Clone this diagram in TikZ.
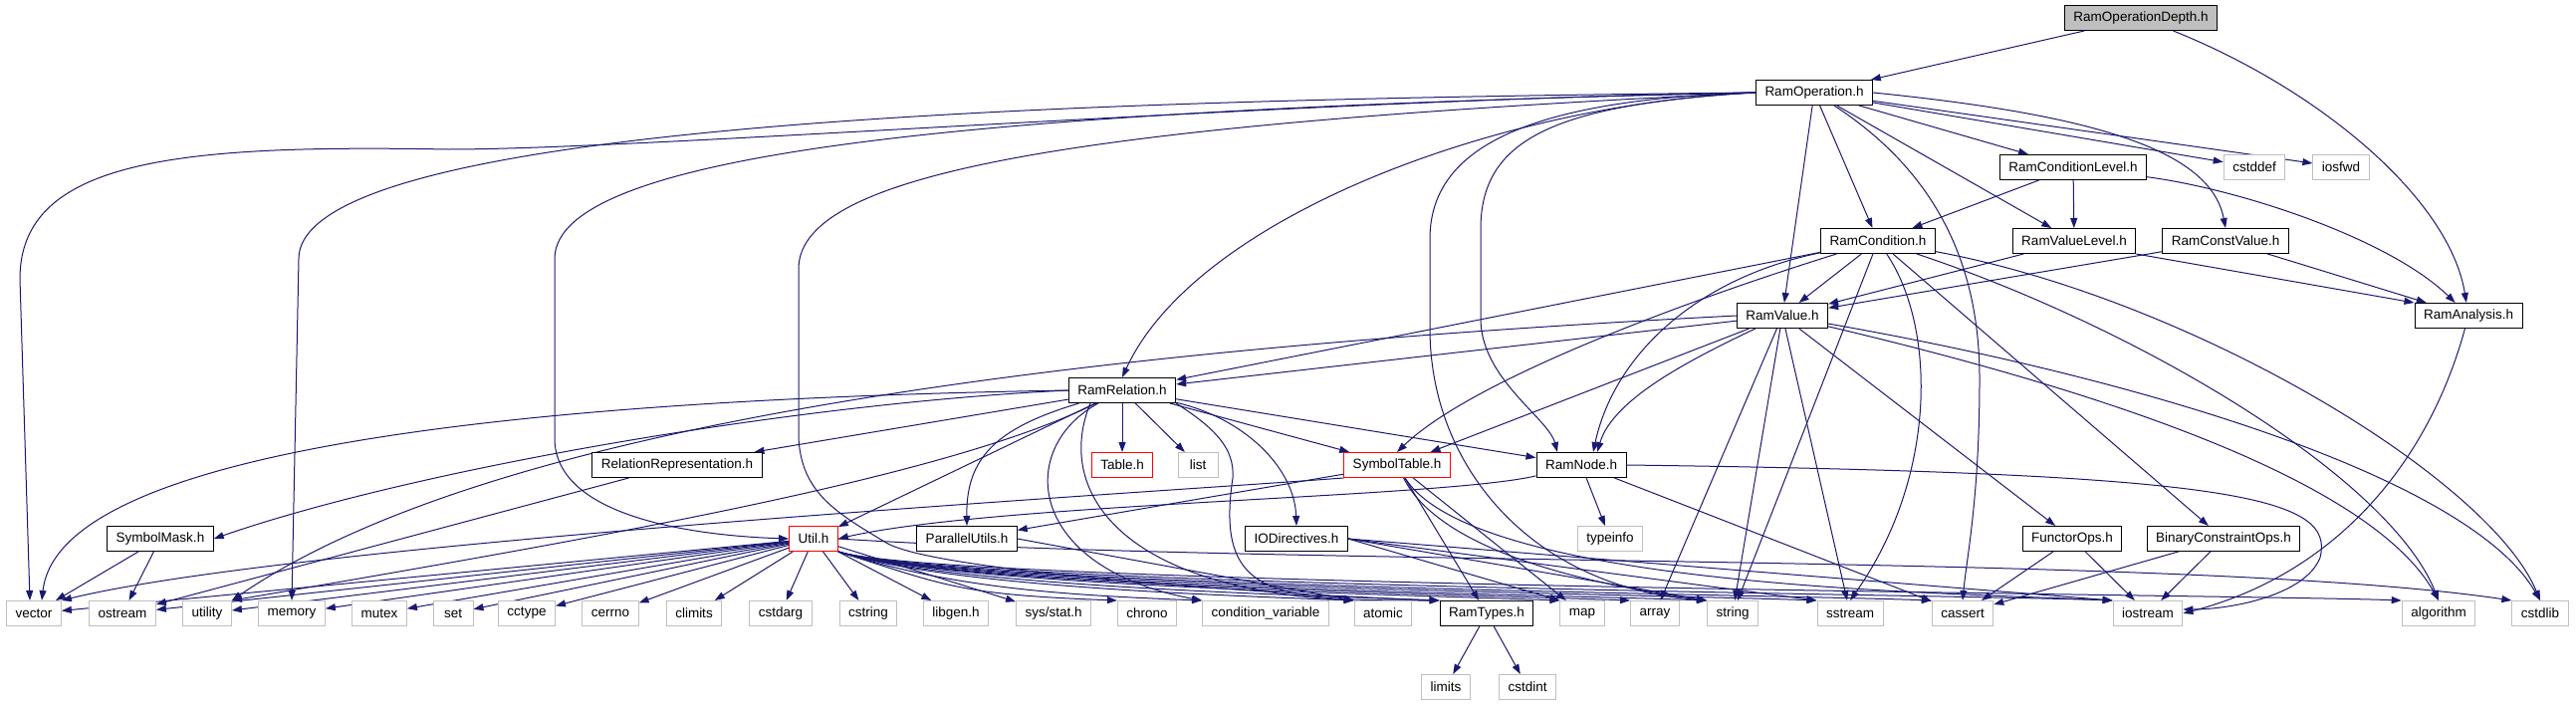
\documentclass[tikz,border=0pt]{standalone}
\usepackage{fontspec}
\setmainfont{Liberation Sans}
\usetikzlibrary{arrows.meta,backgrounds}
\definecolor{edgeblue}{RGB}{25,25,112}
\definecolor{sysgray}{RGB}{191,191,191}

\begin{document}
\begin{tikzpicture}[
  x=1pt, y=-1pt,
  font=\fontsize{13.5}{16}\selectfont,
  hdr/.style={rectangle, draw=black, line width=1pt, fill=white, minimum height=25pt,
              minimum width=40pt, inner xsep=9pt, inner ysep=0pt},
  sys/.style={hdr, draw=sysgray},
  trunc/.style={hdr, draw=red},
  root/.style={hdr, fill=sysgray},
  dep/.style={-{Triangle[length=10pt,width=7pt]}, line width=1pt, draw=edgeblue},
]
\useasboundingbox (0,0) rectangle (2587,709);

% --- project headers ---
\node[root] (RamOperationDepth) at (2150,18) {RamOperationDepth.h};
\node[hdr] (RamOperation) at (1822,93) {RamOperation.h};
\node[hdr] (RamConditionLevel) at (2082,168) {RamConditionLevel.h};
\node[sys] (cstddef) at (2264,168) {cstddef};
\node[sys] (iosfwd) at (2351,168) {iosfwd};
\node[hdr] (RamCondition) at (1886,242) {RamCondition.h};
\node[hdr] (RamValueLevel) at (2083,242) {RamValueLevel.h};
\node[hdr] (RamConstValue) at (2235,242) {RamConstValue.h};
\node[hdr] (RamValue) at (1790,317) {RamValue.h};
\node[hdr] (RamAnalysis) at (2479,317) {RamAnalysis.h};
\node[hdr] (RamRelation) at (1127,392) {RamRelation.h};
\node[hdr] (RelationRepresentation) at (680,467) {RelationRepresentation.h};
\node[trunc] (Table) at (1127,467) {Table.h};
\node[sys] (list) at (1203,467) {list};
\node[trunc] (SymbolTable) at (1403,467) {SymbolTable.h};
\node[hdr] (RamNode) at (1588,467) {RamNode.h};
\node[hdr] (SymbolMask) at (161,541) {SymbolMask.h};
\node[trunc] (Util) at (817,541) {Util.h};
\node[hdr] (ParallelUtils) at (971,541) {ParallelUtils.h};
\node[hdr] (IODirectives) at (1302,541) {IODirectives.h};
\node[sys] (typeinfo) at (1617,541) {typeinfo};
\node[hdr] (FunctorOps) at (2081,541) {FunctorOps.h};
\node[hdr] (BinaryConstraintOps) at (2233,541) {BinaryConstraintOps.h};

% --- bottom row ---
\node[sys] (vector) at (34,616) {vector};
\node[sys] (ostream) at (123,616) {ostream};
\node[sys] (utility) at (208,616) {utility};
\node[sys] (memory) at (293,616) {memory};
\node[sys] (mutex) at (381,616) {mutex};
\node[sys] (set) at (455,616) {set};
\node[sys] (cctype) at (529,616) {cctype};
\node[sys] (cerrno) at (613,616) {cerrno};
\node[sys] (climits) at (697,616) {climits};
\node[sys] (cstdarg) at (784,616) {cstdarg};
\node[sys] (cstring) at (872,616) {cstring};
\node[sys] (libgen) at (960,616) {libgen.h};
\node[sys] (sysstat) at (1058,616) {sys/stat.h};
\node[sys] (chrono) at (1152,616) {chrono};
\node[sys] (condvar) at (1271,616) {condition\_variable};
\node[sys] (atomic) at (1389,616) {atomic};
\node[hdr] (RamTypes) at (1493,616) {RamTypes.h};
\node[sys] (map) at (1589,616) {map};
\node[sys] (array) at (1662,616) {array};
\node[sys] (string) at (1740,616) {string};
\node[sys] (sstream) at (1858,616) {sstream};
\node[sys] (cassert) at (1971,616) {cassert};
\node[sys] (iostream) at (2157,616) {iostream};
\node[sys] (algorithm) at (2449,616) {algorithm};
\node[sys] (cstdlib) at (2551,616) {cstdlib};
\node[sys] (limits) at (1452,690) {limits};
\node[sys] (cstdint) at (1534,690) {cstdint};

\begin{scope}[on background layer]
% --- RamOperationDepth.h ---
\draw[dep] (RamOperationDepth) -- (RamOperation);
\draw[dep] (RamOperationDepth) .. controls (2330,90) and (2460,200) .. (RamAnalysis);

% --- RamOperation.h ---
\draw[dep] (RamOperation.west) .. controls (1300,100) and (650,150) .. (450,150)
  .. controls (180,145) and (20,160) .. (20,280) -- ([xshift=-4pt]vector.north);
\draw[dep] (RamOperation.west) .. controls (1100,100) and (300,120) .. (300,260) -- (memory.north);
\draw[dep] (RamOperation.west) .. controls (1000,110) and (557,150) .. (557,260) -- (557,440)
  .. controls (557,520) and (700,538) .. (Util.west);
\draw[dep] (RamOperation.west) .. controls (1100,125) and (802,170) .. (802,270) -- (802,440)
  .. controls (805,495) and (840,515) .. (890,545) .. controls (940,575) and (1300,598) .. (RamTypes.north west);
\draw[dep] (RamOperation.west) .. controls (1500,105) and (1200,220) .. (RamRelation.north);
\draw[dep] (RamOperation.west) .. controls (1530,100) and (1436,150) .. (1436,240) -- (1436,330)
  .. controls (1436,470) and (1540,590) .. (string.north west);
\draw[dep] (RamOperation.west) .. controls (1560,105) and (1487,140) .. (1487,230) -- (1487,320)
  .. controls (1487,380) and (1555,420) .. ([xshift=-24pt]RamNode.north);
\draw[dep] (RamOperation) -- (RamValue);
\draw[dep] (RamOperation) -- (RamCondition);
\draw[dep] (RamOperation) -- (RamConditionLevel);
\draw[dep] (RamOperation) -- (RamValueLevel);
\draw[dep] (RamOperation.east) .. controls (2100,115) and (2220,150) .. (RamConstValue.north);
\draw[dep] (RamOperation) -- (cstddef);
\draw[dep] (RamOperation) -- (iosfwd);
\draw[dep] (RamOperation) .. controls (1940,170) and (1988,260) .. (1988,380)
  .. controls (1988,500) and (1975,560) .. (cassert.north);

% --- analyses ---
\draw[dep] (RamConditionLevel) -- (RamCondition);
\draw[dep] (RamConditionLevel) -- (RamValueLevel);
\draw[dep] (RamConditionLevel) .. controls (2250,190) and (2400,240) .. (RamAnalysis);
\draw[dep] (RamValueLevel) -- (RamValue);
\draw[dep] (RamValueLevel.south east) -- (RamAnalysis.north west);
\draw[dep] (RamConstValue) -- (RamValue);
\draw[dep] (RamConstValue) -- (RamAnalysis);
\draw[dep] (RamAnalysis) .. controls (2440,460) and (2350,575) .. (iostream.east);

% --- RamCondition.h ---
\draw[dep] (RamCondition) -- (RamValue);
\draw[dep] (RamCondition) -- (RamRelation);
\draw[dep] (RamCondition) .. controls (1700,300) and (1480,380) .. (SymbolTable.north);
\draw[dep] (RamCondition) .. controls (1700,280) and (1620,360) .. ([xshift=12pt]RamNode.north);
\draw[dep] (RamCondition) -- (string);
\draw[dep] (RamCondition) .. controls (1945,330) and (1945,480) .. (sstream.north);
\draw[dep] (RamCondition) -- (BinaryConstraintOps);
\draw[dep] (RamCondition) .. controls (2150,330) and (2400,480) .. (algorithm.north);
\draw[dep] (RamCondition) .. controls (2200,300) and (2500,480) .. (cstdlib.north);

% --- RamValue.h ---
\draw[dep] (RamValue.west) .. controls (1100,350) and (500,420) .. (utility.north east);
\draw[dep] (RamValue) -- (RamRelation);
\draw[dep] (RamValue) -- (SymbolTable);
\draw[dep] (RamValue) .. controls (1700,360) and (1620,400) .. ([xshift=16pt]RamNode.north);
\draw[dep] (RamValue) -- (array);
\draw[dep] (RamValue) -- (string);
\draw[dep] (RamValue) -- (sstream);
\draw[dep] (RamValue) -- (FunctorOps);
\draw[dep] (RamValue) .. controls (2100,390) and (2380,480) .. (algorithm.north);
\draw[dep] (RamValue) .. controls (2150,380) and (2480,480) .. (cstdlib.north);

% --- RamRelation.h ---
\draw[dep] (RamRelation.west) .. controls (600,400) and (60,440) .. ([xshift=8pt]vector.north);
\draw[dep] (RamRelation.west) .. controls (800,405) and (420,470) .. (SymbolMask.east);
\draw[dep] (RamRelation) -- (RelationRepresentation);
\draw[dep] (RamRelation) .. controls (950,480) and (600,540) .. (utility.north east);
\draw[dep] (RamRelation) -- (Util);
\draw[dep] (RamRelation) .. controls (1000,430) and (970,460) .. (ParallelUtils.north);
\draw[dep] (RamRelation) -- (Table);
\draw[dep] (RamRelation) -- (list);
\draw[dep] (RamRelation) -- (SymbolTable);
\draw[dep] (RamRelation) -- (RamNode);
\draw[dep] (RamRelation) .. controls (1250,420) and (1300,470) .. (IODirectives.north);
\draw[dep] (RamRelation) .. controls (1020,450) and (1030,570) .. (condvar.north west);
\draw[dep] ([xshift=-32pt]RamRelation.south) .. controls (1060,490) and (1120,590) .. (atomic.north west);
\draw[dep] (RamRelation.south east) .. controls (1220,430) and (1240,450) .. (1238,480)
  .. controls (1220,600) and (1280,603) .. (RamTypes.north west);

% --- SymbolTable.h, RamNode.h ---
\draw[dep] (SymbolTable) -- (ParallelUtils);
\draw[dep] (SymbolTable.south west) .. controls (1150,495) and (300,545) .. (vector.north east);
\draw[dep] (SymbolTable) -- (RamTypes);
\draw[dep] (SymbolTable) -- (map);
\draw[dep] (SymbolTable) .. controls (1450,560) and (1620,590) .. (string.north west);
\draw[dep] (SymbolTable) .. controls (1480,590) and (1950,595) .. (iostream.north west);
\draw[dep] (RamNode) -- (typeinfo);
\draw[dep] (RamNode) .. controls (1450,500) and (1000,505) .. (Util.east);
\draw[dep] (RamNode) -- (cassert);
\draw[dep] (RamNode.east) .. controls (2250,475) and (2345,500) .. (2330,560)
  .. controls (2315,598) and (2240,612) .. ([yshift=4pt]iostream.east);

% --- Util.h ---
\foreach \dst in {vector,ostream,utility,memory,mutex,set,cctype,cerrno,climits,cstdarg,cstring,libgen,sysstat}
  \draw[dep] (Util) -- (\dst);
\foreach \dst/\cx in {chrono/1121,condvar/1207,atomic/1359,RamTypes/1444,map/1566,array/1637,
                      string/1713,sstream/1824,cassert/1939,iostream/2121,algorithm/2412}
  \draw[dep] (Util.south east) .. controls (950,588) and (\cx-160,597) .. (\dst.north west);
\draw[dep] (Util.east) .. controls (1300,570) and (2200,555) .. (cstdlib.north west);

% --- remaining headers ---
\draw[dep] (SymbolMask) -- (vector);
\draw[dep] (SymbolMask) -- (ostream);
\draw[dep] (RelationRepresentation) -- (ostream);
\draw[dep] (ParallelUtils.east) -- (atomic.north west);
\foreach \dst in {map,string,sstream,iostream}
  \draw[dep] (IODirectives.east) -- (\dst.north west);
\draw[dep] (FunctorOps) -- (cassert);
\draw[dep] (FunctorOps) -- (iostream);
\draw[dep] (BinaryConstraintOps) -- (cassert);
\draw[dep] (BinaryConstraintOps) -- (iostream);
\draw[dep] (RamTypes) -- (limits);
\draw[dep] (RamTypes) -- (cstdint);
\end{scope}

\end{tikzpicture}
\end{document}
